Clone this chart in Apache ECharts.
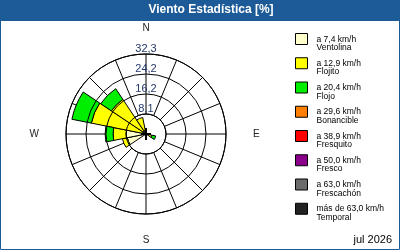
<!DOCTYPE html>
<html><head><meta charset="utf-8">
<script src="https://cdn.jsdelivr.net/npm/echarts@6/dist/echarts.min.js"></script>
<style>html,body{margin:0;padding:0;background:#fff}#c{width:400px;height:250px}</style>
</head><body><div id="c"></div>
<script>
const directions = ['N','NNE','NE','ENE','E','ESE','SE','SSE','S','SSW','SW','WSW','W','WNW','NW','NNW'];
const ventolina  = [0,0,0,0,0,0.8,0,0,0,0,0,7.7,8,1.5,1.5,1.5];
const flojito    = [0,0,0,0,0,1.6,0,0,0,0,0,2,5.3,21,15.3,5.3];
const flojo      = [0,0,0,0,0,1.6,0,0,0,0,0,0,3.2,8,5.2,0];
const bonancible = [0,0,0,0,0,0,0,0,0,0,0,0,0,0,0,0];
const fresquito  = [0,0,0,0,0,0,0,0,0,0,0,0,0,0,0,0];
const fresco     = [0,0,0,0,0,0,0,0,0,0,0,0,0,0,0,0];
const frescachon = [0,0,0,0,0,0,0,0,0,0,0,0,0,0,0,0];
const temporal   = [0,0,0,0,0,0,0,0,0,0,0,0,0,0,0,0];
const seriesNames = ['a 7,4 km/h\nVentolina','a 12,9 km/h\nFlojito','a 20,4 km/h\nFlojo','a 29,6 km/h\nBonancible','a 38,9 km/h\nFresquito','a 50,0 km/h\nFresco','a 63,0 km/h\nFrescachón','más de 63,0 km/h\nTemporal'];
const seriesData = [ventolina, flojito, flojo, bonancible, fresquito, fresco, frescachon, temporal];
const seriesColors = ['#ffffcc','#ffff00','#00ee00','#ff8000','#ff0000','#8b008b','#6a6a6a','#222222'];
const ringValues = [8.075, 16.15, 24.225, 32.3];
const ringLabels = ['8,1','16,2','24,2','32,3'];
const compass = {0:'N',90:'{e|E}',180:'S',270:'{w|W}'};
const titleText = 'Viento Estadística [%]';
const dateText = 'jul 2026';

const chart = echarts.init(document.getElementById('c'), null, {renderer:'canvas'});
const C = [146,134];
const option = {
  animation:false,
  backgroundColor:'#fff',
  graphic:[
    {type:'rect', shape:{x:0.5,y:0.5,width:399,height:249}, style:{fill:'#fff',stroke:'#1c5a98',lineWidth:1}, z:-10},
    {type:'rect', shape:{x:0,y:0,width:400,height:21}, style:{fill:'#1c5a98'}, z:-9},
    {type:'rect', shape:{x:C[0]-1,y:C[1]-6,width:2,height:12}, style:{fill:'#000'}, z:100},
    {type:'rect', shape:{x:C[0]-5,y:C[1]-1,width:10,height:2}, style:{fill:'#000'}, z:100}
  ],
  title:[
    {text:titleText, left:211, top:4, textAlign:'center', padding:0,
     textStyle:{color:'#fff',fontFamily:'Liberation Sans',fontWeight:'bold',fontSize:12}},
    {text:dateText, right:8, top:234, padding:0,
     textStyle:{color:'#000',fontFamily:'Liberation Sans',fontWeight:'normal',fontSize:11}}
  ],
  legend:{
    orient:'vertical', left:295, top:26, padding:0, itemGap:-2,
    itemWidth:12, itemHeight:11, icon:'rect', selectedMode:false,
    itemStyle:{borderColor:'#000',borderWidth:1},
    formatter: name => '{s| }\n' + name.split('\n').map(l=>'{a|'+l+'}').join('\n'),
    textStyle:{fontFamily:'Liberation Sans',fontSize:8.5,color:'#000',
      rich:{s:{fontSize:8.5,lineHeight:9},
            a:{fontFamily:'Liberation Sans',fontSize:8.5,lineHeight:8.5,color:'#000',padding:[0,0,0,4]}}},
    data:seriesNames
  },
  polar:[
    {center:C, radius:[0,80]},
    {center:C, radius:[20,80]}
  ],
  angleAxis:[
    {polarIndex:0, type:'category', data:directions, startAngle:101.25, clockwise:true,
     axisLine:{show:false}, axisTick:{show:false}, axisLabel:{show:false}, splitLine:{show:false}},
    {polarIndex:1, type:'value', min:0, max:360, interval:22.5, startAngle:90, clockwise:true,
     axisLine:{show:true,lineStyle:{color:'#000',width:1}}, axisTick:{show:false},
     splitLine:{show:true,lineStyle:{color:'#000',width:1}},
     axisLabel:{show:true, margin:21, fontFamily:'Liberation Sans', fontSize:10, color:'#222',
       formatter:v=>compass[v]||'',
       rich:{e:{padding:[0,0,0,6],fontSize:10,fontFamily:'Liberation Sans',color:'#222'},
             w:{padding:[0,6,0,0],fontSize:10,fontFamily:'Liberation Sans',color:'#222'}}}}
  ],
  radiusAxis:[
    {polarIndex:0, type:'value', min:0, max:ringValues[3],
     axisLine:{show:false}, axisTick:{show:false}, axisLabel:{show:false}, splitLine:{show:false}},
    {polarIndex:1, type:'value', min:ringValues[0], max:ringValues[3], interval:ringValues[0], angle:90,
     axisLine:{show:false}, axisTick:{show:false},
     splitLine:{show:true,lineStyle:{color:'#000',width:1}},
     axisLabel:{show:true, margin:0, align:'center', verticalAlign:'bottom', fontFamily:'Liberation Sans', fontSize:11, color:'#24386a',
       formatter:(v,i)=>ringLabels[i]}, z:5}
  ],
  series: seriesNames.map((n,k)=>({
    name:n, type:'bar', coordinateSystem:'polar', polarIndex:0, stack:'w',
    barCategoryGap:'0%', z:3,
    itemStyle:{color:seriesColors[k], borderColor:'#000', borderWidth:1},
    data: seriesData[k].map(v=> v===0 ? null : v)
  }))
};
chart.setOption(option);
</script></body></html>
